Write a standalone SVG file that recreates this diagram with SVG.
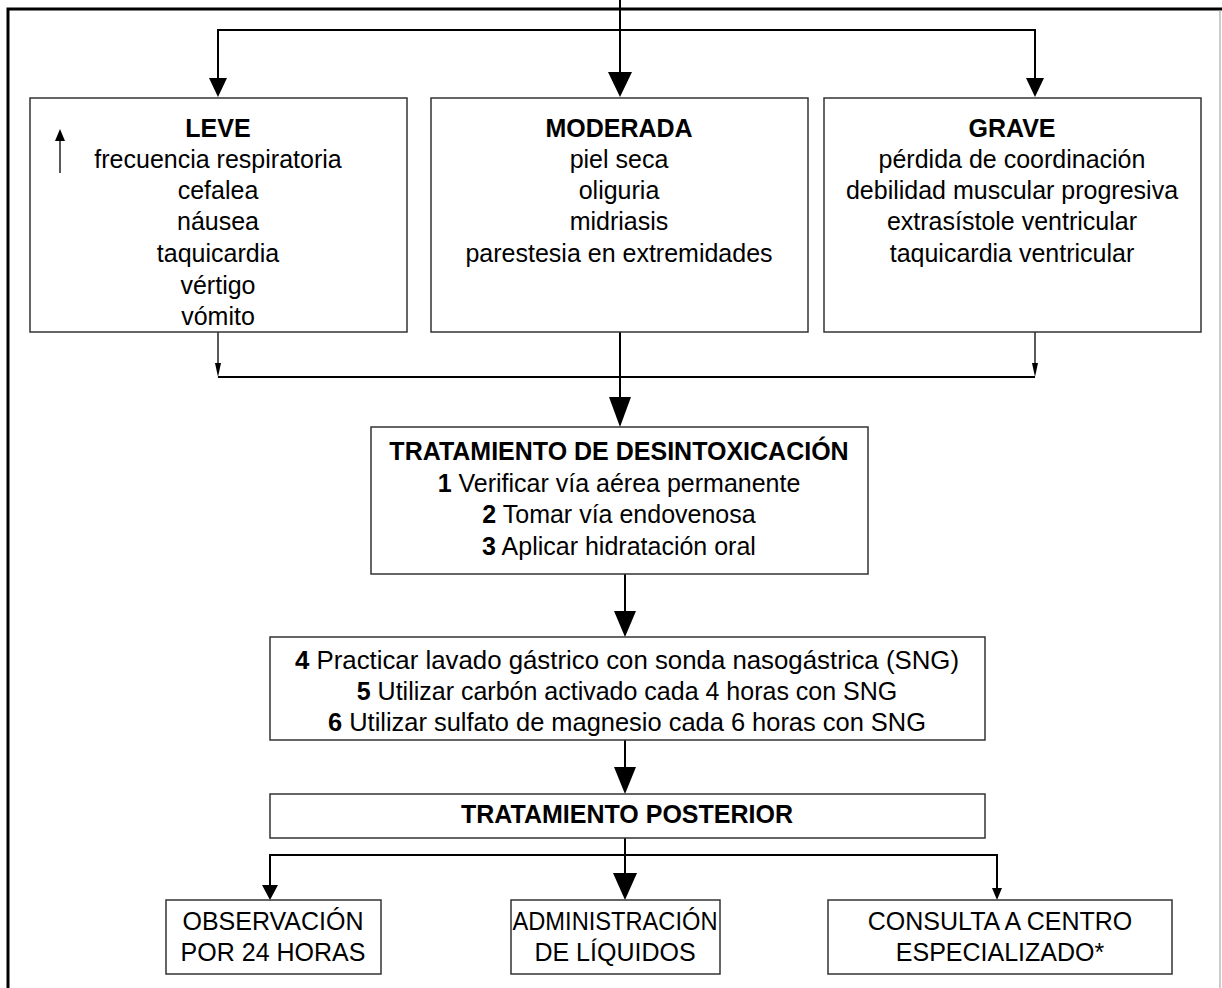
<svg xmlns="http://www.w3.org/2000/svg" width="1222" height="988" viewBox="0 0 1222 988">
<style>
text{font-family:"Liberation Sans",Arial,sans-serif;font-size:25px;fill:#000;text-anchor:middle}
.b{font-weight:bold}
.box{fill:#fff;stroke:#333;stroke-width:1.5}
.ln{fill:none;stroke:#000;stroke-width:2}
.thin{fill:none;stroke:#000;stroke-width:1.3}
.hd{fill:#000;stroke:none}
</style>
<rect width="1222" height="988" fill="#fff"/>
<g id="frame">
<path d="M8,988 V9 H1222" fill="none" stroke="#000" stroke-width="3"/>
<path d="M1220,10 V988" fill="none" stroke="#999" stroke-width="1"/>
</g>
<g id="connectors">
<path class="ln" d="M620,0 V72"/>
<polygon class="hd" points="608,72 632,72 620,97"/>
<path class="ln" d="M218,78 V30 H1035 V78"/>
<polygon class="hd" points="209,78 227,78 218,97"/>
<polygon class="hd" points="1026,78 1044,78 1035,97"/>
<path class="thin" d="M218,332 V364"/>
<path class="thin" d="M1035,332 V364"/>
<polygon class="hd" points="215,363 221,363 218,377"/>
<polygon class="hd" points="1032,363 1038,363 1035,377"/>
<path class="ln" d="M218,377 H1035"/>
<path class="ln" d="M620,332 V398"/>
<polygon class="hd" points="609,397 631,397 620,427"/>
<path class="ln" d="M625,574 V612"/>
<polygon class="hd" points="614,611 636,611 625,637"/>
<path class="ln" d="M625,740 V768"/>
<polygon class="hd" points="614,767 636,767 625,794"/>
<path class="ln" d="M625,838 V874"/>
<polygon class="hd" points="613,873 637,873 625,900"/>
<path class="ln" d="M270,886 V855 H997 V888"/>
<polygon class="hd" points="262,885 278,885 270,900"/>
<polygon class="hd" points="992,888 1002,888 997,900"/>
</g>
<g id="leve">
<rect class="box" x="30" y="98" width="377" height="234"/>
<path class="thin" d="M60,173 V140"/>
<polygon class="hd" points="55,141 65,141 60,129"/>
<text class="b" x="218" y="137">LEVE</text>
<text x="218" y="168">frecuencia respiratoria</text>
<text x="218" y="199">cefalea</text>
<text x="218" y="230">náusea</text>
<text x="218" y="262">taquicardia</text>
<text x="218" y="294">vértigo</text>
<text x="218" y="325">vómito</text>
</g>
<g id="moderada">
<rect class="box" x="431" y="98" width="377" height="234"/>
<text class="b" x="619" y="137">MODERADA</text>
<text x="619" y="168">piel seca</text>
<text x="619" y="199">oliguria</text>
<text x="619" y="230">midriasis</text>
<text x="619" y="262">parestesia en extremidades</text>
</g>
<g id="grave">
<rect class="box" x="824" y="98" width="377" height="234"/>
<text class="b" x="1012" y="137">GRAVE</text>
<text x="1012" y="168">pérdida de coordinación</text>
<text x="1012" y="199">debilidad muscular progresiva</text>
<text x="1012" y="230">extrasístole ventricular</text>
<text x="1012" y="262">taquicardia ventricular</text>
</g>
<g id="desintoxicacion">
<rect class="box" x="371" y="427" width="497" height="147"/>
<text class="b" x="619" y="460">TRATAMIENTO DE DESINTOXICACIÓN</text>
<text x="619" y="492"><tspan class="b">1</tspan> Verificar vía aérea permanente</text>
<text x="619" y="523"><tspan class="b">2</tspan> Tomar vía endovenosa</text>
<text x="619" y="555"><tspan class="b">3</tspan> Aplicar hidratación oral</text>
</g>
<g id="pasos">
<rect class="box" x="270" y="637" width="715" height="103"/>
<text x="627" y="669" textLength="664" lengthAdjust="spacingAndGlyphs"><tspan class="b">4</tspan> Practicar lavado gástrico con sonda nasogástrica (SNG)</text>
<text x="627" y="700"><tspan class="b">5</tspan> Utilizar carbón activado cada 4 horas con SNG</text>
<text x="627" y="731" textLength="598" lengthAdjust="spacingAndGlyphs"><tspan class="b">6</tspan> Utilizar sulfato de magnesio cada 6 horas con SNG</text>
</g>
<g id="posterior">
<rect class="box" x="270" y="794" width="715" height="44"/>
<text class="b" x="627" y="823">TRATAMIENTO POSTERIOR</text>
</g>
<g id="observacion">
<rect class="box" x="166" y="900" width="215" height="74"/>
<text x="273" y="930">OBSERVACIÓN</text>
<text x="273" y="961">POR 24 HORAS</text>
</g>
<g id="administracion">
<rect class="box" x="511" y="900" width="209" height="74"/>
<text x="615" y="930" textLength="205" lengthAdjust="spacingAndGlyphs">ADMINISTRACIÓN</text>
<text x="615" y="961">DE LÍQUIDOS</text>
</g>
<g id="consulta">
<rect class="box" x="828" y="900" width="344" height="74"/>
<text x="1000" y="930">CONSULTA A CENTRO</text>
<text x="1000" y="961">ESPECIALIZADO*</text>
</g>
</svg>
